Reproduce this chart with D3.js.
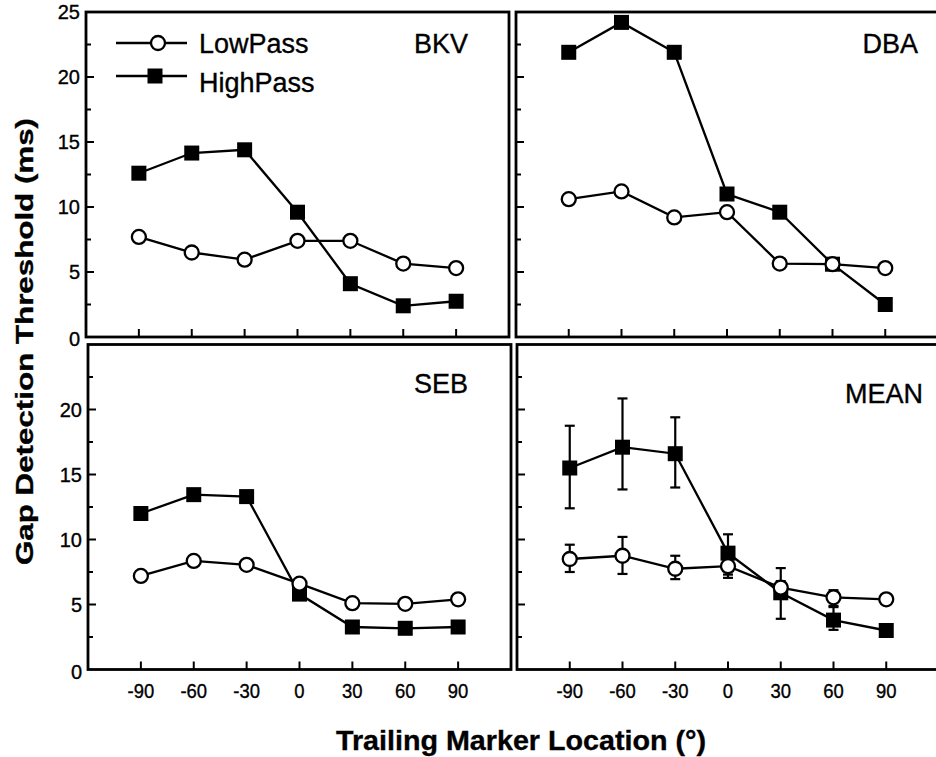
<!DOCTYPE html>
<html>
<head>
<meta charset="utf-8">
<script src="https://cdn.jsdelivr.net/npm/d3@7"></script>
<style>
  body { margin: 0; background: #fff; }
  svg { display: block; }
  text { font-family: "Liberation Sans", Arial, Helvetica, sans-serif; fill: #000; stroke: #000; stroke-width: 0.35; }
</style>
</head>
<body>
<svg id="chart" width="936" height="757"></svg>
<script>
const locations = [-90, -60, -30, 0, 30, 60, 90]

const bkvLow = [7.7, 6.5, 5.95, 7.4, 7.4, 5.65, 5.3]
const bkvHigh = [12.6, 14.15, 14.4, 9.6, 4.1, 2.4, 2.75]
const dbaLow = [10.6, 11.2, 9.2, 9.6, 5.65, 5.6, 5.3]
const dbaHigh = [21.9, 24.2, 21.9, 11.0, 9.6, 5.6, 2.5]
const sebLow = [7.2, 8.35, 8.05, 6.6, 5.1, 5.05, 5.4]
const sebHigh = [12.0, 13.45, 13.3, 5.8, 3.27, 3.17, 3.27]
const meanLow = [8.5, 8.75, 7.75, 7.95, 6.3, 5.55, 5.4]
const meanHigh = [15.5, 17.1, 16.6, 8.95, 5.9, 3.8, 3.0]

// error bar ends for the MEAN panel (null = no visible bar)
const meanLowUpper = [9.6, 10.2, 8.75, 8.4, 6.8, 6.1, null]
const meanLowLower = [7.5, 7.35, 6.95, 7.05, 5.9, 4.9, null]
const meanHighUpper = [18.75, 20.85, 19.4, 10.4, 7.8, 4.8, null]
const meanHighLower = [12.4, 13.85, 14.0, 7.3, 3.9, 3.05, null]

const yMajorTop = [0, 5, 10, 15, 20, 25]
const yMajorBottom = [0, 5, 10, 15, 20]
const yMinor = [2.5, 7.5, 12.5, 17.5, 22.5]

const seriesNames = ['LowPass', 'HighPass']

const svg = d3.select('#chart')

const panels = [
  { name: 'BKV', x0: 86, x1: 509, y0: 12, y1: 337, low: bkvLow, high: bkvHigh, yLabels: yMajorTop, lx: 468, ly: 53 },
  { name: 'DBA', x0: 516, x1: 938, y0: 12, y1: 337, low: dbaLow, high: dbaHigh, yLabels: [], lx: 918, ly: 53 },
  { name: 'SEB', x0: 88, x1: 511, y0: 344.5, y1: 669.5, low: sebLow, high: sebHigh, yLabels: yMajorBottom, lx: 468, ly: 393, xLabels: true },
  { name: 'MEAN', x0: 517, x1: 939, y0: 344.5, y1: 669.5, low: meanLow, high: meanHigh, yLabels: [], lx: 923, ly: 403, xLabels: true,
    err: true }
]

panels.forEach(p => {
  const x = d3.scaleLinear().domain([-120, 120]).range([p.x0, p.x1])
  const y = d3.scaleLinear().domain([0, 25]).range([p.y1, p.y0])
  const g = svg.append('g')

  // x ticks, inward from bottom
  g.selectAll('.xt').data(locations).join('line')
    .attr('x1', d => x(d)).attr('x2', d => x(d))
    .attr('y1', p.y1).attr('y2', p.y1 - 8)
    .attr('stroke', '#000').attr('stroke-width', 2)

  // y ticks, major and minor
  g.selectAll('.ymaj').data([5, 10, 15, 20]).join('line')
    .attr('x1', p.x0).attr('x2', p.x0 + 8)
    .attr('y1', d => y(d)).attr('y2', d => y(d))
    .attr('stroke', '#000').attr('stroke-width', 2)
  g.selectAll('.ymin').data(yMinor).join('line')
    .attr('x1', p.x0).attr('x2', p.x0 + 5)
    .attr('y1', d => y(d)).attr('y2', d => y(d))
    .attr('stroke', '#000').attr('stroke-width', 2)

  // frame
  g.append('rect')
    .attr('x', p.x0).attr('y', p.y0)
    .attr('width', p.x1 - p.x0).attr('height', p.y1 - p.y0)
    .attr('fill', 'none').attr('stroke', '#000').attr('stroke-width', 2.8)

  // y labels
  g.selectAll('.yl').data(p.yLabels).join('text')
    .attr('x', p.x0 - 6)
    .attr('y', d => y(d) + (d === 0 ? 9 : 7))
    .attr('text-anchor', 'end')
    .attr('font-size', 20)
    .text(d => d)

  if (p.xLabels) {
    g.selectAll('.xl').data(locations).join('text')
      .attr('x', d => x(d))
      .attr('y', 698)
      .attr('text-anchor', 'middle')
      .attr('font-size', 21)
      .attr('transform', d => `translate(${x(d)},0) scale(0.88,1) translate(${-x(d)},0)`)
      .text(d => d)
  }

  // panel name
  g.append('text')
    .attr('x', p.lx).attr('y', p.ly)
    .attr('text-anchor', 'end')
    .attr('font-size', 27)
    .text(p.name)

  const line = d3.line().x((d, i) => x(locations[i])).y(d => y(d))

  // error bars (MEAN only)
  if (p.err) {
    const bars = []
    locations.forEach((loc, i) => {
      if (meanHighUpper[i] != null) bars.push({ loc, lo: meanHighLower[i], hi: meanHighUpper[i] })
      if (meanLowUpper[i] != null) bars.push({ loc, lo: meanLowLower[i], hi: meanLowUpper[i] })
    })
    const eb = g.selectAll('.eb').data(bars).join('g')
    eb.append('line')
      .attr('x1', d => x(d.loc)).attr('x2', d => x(d.loc))
      .attr('y1', d => y(d.lo)).attr('y2', d => y(d.hi))
      .attr('stroke', '#000').attr('stroke-width', 2.2)
    eb.append('line')
      .attr('x1', d => x(d.loc) - 5).attr('x2', d => x(d.loc) + 5)
      .attr('y1', d => y(d.hi)).attr('y2', d => y(d.hi))
      .attr('stroke', '#000').attr('stroke-width', 2.2)
    eb.append('line')
      .attr('x1', d => x(d.loc) - 5).attr('x2', d => x(d.loc) + 5)
      .attr('y1', d => y(d.lo)).attr('y2', d => y(d.lo))
      .attr('stroke', '#000').attr('stroke-width', 2.2)
  }

  g.append('path').datum(p.low).attr('d', line)
    .attr('fill', 'none').attr('stroke', '#000').attr('stroke-width', 2.3)
  g.append('path').datum(p.high).attr('d', line)
    .attr('fill', 'none').attr('stroke', '#000').attr('stroke-width', 2.3)

  g.selectAll('.sq').data(p.high).join('rect')
    .attr('x', (d, i) => x(locations[i]) - 7.5)
    .attr('y', d => y(d) - 7.5)
    .attr('width', 15).attr('height', 15)
    .attr('fill', '#000')

  g.selectAll('.ci').data(p.low).join('circle')
    .attr('cx', (d, i) => x(locations[i]))
    .attr('cy', d => y(d))
    .attr('r', 7)
    .attr('fill', '#fff').attr('stroke', '#000').attr('stroke-width', 2.3)
})

// legend in the BKV panel
const legend = svg.append('g')
const legendRows = [
  { name: seriesNames[0], ly: 43, ty: 53, cx: 158 },
  { name: seriesNames[1], ly: 76, ty: 92, cx: 155 }
]
legendRows.forEach((r, i) => {
  legend.append('line')
    .attr('x1', 116).attr('x2', 187).attr('y1', r.ly).attr('y2', r.ly)
    .attr('stroke', '#000').attr('stroke-width', 2.3)
  if (i === 0) {
    legend.append('circle').attr('cx', r.cx).attr('cy', r.ly).attr('r', 7)
      .attr('fill', '#fff').attr('stroke', '#000').attr('stroke-width', 2.3)
  } else {
    legend.append('rect').attr('x', r.cx - 7.5).attr('y', r.ly - 7.5)
      .attr('width', 15).attr('height', 15).attr('fill', '#000')
  }
  legend.append('text')
    .attr('x', 199).attr('y', r.ty)
    .attr('font-size', 27)
    .text(r.name)
})

// axis titles
svg.append('text')
  .attr('transform', 'translate(33,341.5) rotate(-90)')
  .attr('text-anchor', 'middle')
  .attr('font-size', 24)
  .attr('font-weight', 'bold')
  .attr('textLength', 447)
  .attr('lengthAdjust', 'spacingAndGlyphs')
  .text('Gap Detection Threshold (ms)')

svg.append('text')
  .attr('x', 521).attr('y', 750)
  .attr('text-anchor', 'middle')
  .attr('font-size', 28)
  .attr('font-weight', 'bold')
  .attr('textLength', 370)
  .attr('lengthAdjust', 'spacingAndGlyphs')
  .text('Trailing Marker Location (°)')
</script>
</body>
</html>
